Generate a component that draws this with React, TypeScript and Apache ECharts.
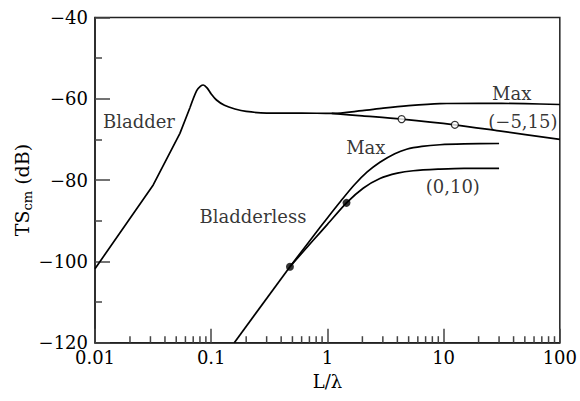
import React, { useEffect, useRef } from 'react';
import * as echarts from 'echarts';

const FONT = '"DejaVu Serif", "Liberation Serif", serif';

const xTickLabels = ['0.01', '0.1', '1', '10', '100'];
const xMinorTicks = [
  0.02, 0.03, 0.04, 0.05, 0.06, 0.07, 0.08, 0.09,
  0.2, 0.3, 0.4, 0.5, 0.6, 0.7, 0.8, 0.9,
  2, 3, 4, 5, 6, 7, 8, 9,
  20, 30, 40, 50, 60, 70, 80, 90,
];

// Bladder curve: rising part
const bladderRise = [
  [0.01, -101.8], [0.0317, -81.2], [0.0538, -68.5], [0.0656, -62.2],
];
// Bladder curve: peak, plateau and upper "Max" branch
const bladderMax = [
  [0.0656, -62.2], [0.075, -58], [0.081, -56.9], [0.0855, -56.6],
  [0.092, -57.3], [0.1, -58.8], [0.111, -60.3], [0.13, -61.6],
  [0.16, -62.5], [0.2, -63.1], [0.3, -63.5], [0.6, -63.5], [1.09, -63.6],
  [2, -62.9], [3.02, -62.3], [5, -61.7], [9.3, -61.2], [20, -61.1],
  [50, -61.2], [100, -61.4],
];
// Lower branch (-5,15)
const bladderM5_15 = [
  [1.09, -63.6], [2, -64.2], [4.35, -65.0], [12.5, -66.4], [30, -67.9], [100, -70.0],
];
const bladderMarkers = [[4.35, -65.0], [12.5, -66.4]];

// Bladderless
const bladderless = [[0.158, -120], [0.476, -101.3]];
const bladderlessMax = [
  [0.476, -101.3], [0.755, -93.8], [1.0, -89.3], [1.3, -85.2], [1.7, -81.2],
  [2.2, -78.0], [2.83, -75.6], [3.8, -73.5], [4.8, -72.4], [6.5, -71.7],
  [9.3, -71.3], [15, -71.1], [30, -71.0],
];
const bladderless0_10 = [
  [0.476, -101.3], [0.755, -94.8], [1.0, -90.9], [1.46, -85.6], [2.03, -82.0],
  [2.83, -79.6], [4.0, -78.3], [5.47, -77.7], [9.29, -77.3], [15, -77.1], [30, -77.1],
];
const bladderlessMarkers = [[0.476, -101.3], [1.46, -85.6]];

const curveLabels = [
  { name: 'Bladder', value: [0.0239, -65.7] },
  { name: 'Max', value: [38.6, -58.6] },
  { name: '(\u22125,15)', value: [48.1, -65.6] },
  { name: 'Max', value: [2.14, -72.1] },
  { name: '(0,10)', value: [12.0, -81.6] },
  { name: 'Bladderless', value: [0.229, -88.9] },
];

const lineStyle = { color: '#000', width: 1.7 };

export default function App() {
  const ref = useRef<HTMLDivElement>(null);
  useEffect(() => {
    document.body.style.margin = '0';
    const chart = echarts.init(ref.current!, null, { renderer: 'svg' });
    const mkLine = (data: number[][], smooth: number | boolean) => ({
      type: 'line',
      data,
      smooth,
      symbol: 'none',
      lineStyle,
      silent: true,
      z: 3,
    });
    chart.setOption({
      animation: false,
      backgroundColor: '#fff',
      grid: {
        left: 95,
        right: 20,
        top: 17.5,
        bottom: 58.3,
        show: true,
        borderColor: '#222',
        borderWidth: 1.5,
        backgroundColor: 'transparent',
      },
      xAxis: {
        type: 'log',
        logBase: 10,
        min: 0.01,
        max: 100,
        splitNumber: 4,
        name: 'L/\u03bb',
        nameLocation: 'middle',
        nameGap: 30,
        nameTextStyle: { fontFamily: FONT, fontSize: 18, color: '#000' },
        axisLine: { show: true, lineStyle: { color: '#222', width: 1.5 } },
        axisTick: { show: true, inside: true, length: 14, lineStyle: { color: '#444', width: 1.5 } },
        axisLabel: {
          fontFamily: FONT,
          fontSize: 18,
          color: '#000',
          margin: 6,
          formatter: (v: number) => xTickLabels[Math.round(Math.log10(v)) + 2],
        },
        splitLine: { show: false },
        minorTick: { show: false },
      },
      yAxis: {
        type: 'value',
        min: -120,
        max: -40,
        interval: 20,
        axisLine: { show: true, lineStyle: { color: '#222', width: 1.5 } },
        axisTick: { show: true, inside: true, length: 15, lineStyle: { color: '#444', width: 1.5 } },
        minorTick: { show: true, splitNumber: 2, length: 7, lineStyle: { color: '#444', width: 1.5 } },
        axisLabel: {
          fontFamily: FONT,
          fontSize: 18,
          color: '#000',
          margin: 7,
          formatter: (v: number) => (v < 0 ? '\u2212' + Math.abs(v) : String(v)),
        },
        splitLine: { show: false },
        minorSplitLine: { show: false },
      },
      graphic: [
        {
          type: 'text',
          x: 22,
          y: 190,
          rotation: Math.PI / 2,
          style: {
            text: '{a|TS}{s|cm}{a| (dB)}',
            align: 'center',
            verticalAlign: 'middle',
            rich: {
              a: { fontFamily: FONT, fontSize: 19, fill: '#000', lineHeight: 24 },
              s: { fontFamily: FONT, fontSize: 13, fill: '#000', verticalAlign: 'bottom', lineHeight: 16 },
            },
          },
        },
      ],
      series: [
        mkLine(bladderRise, false),
        mkLine(bladderMax, 0.3),
        mkLine(bladderM5_15, 0.3),
        mkLine(bladderless, false),
        mkLine(bladderlessMax, 0.3),
        mkLine(bladderless0_10, 0.3),
        {
          type: 'scatter',
          data: bladderMarkers,
          symbol: 'circle',
          symbolSize: 7,
          itemStyle: { color: '#fff', borderColor: '#000', borderWidth: 1.2 },
          silent: true,
          z: 5,
        },
        {
          type: 'scatter',
          data: bladderlessMarkers,
          symbol: 'circle',
          symbolSize: 8,
          itemStyle: { color: '#000' },
          silent: true,
          z: 5,
        },
        {
          type: 'custom',
          data: xMinorTicks.map((v) => [v, -120]),
          silent: true,
          z: 2,
          renderItem: (params: any, api: any) => {
            const p = api.coord([api.value(0), api.value(1)]);
            return {
              type: 'line',
              shape: { x1: p[0], y1: p[1], x2: p[0], y2: p[1] - 6.5 },
              style: { stroke: '#444', lineWidth: 1.5 },
            };
          },
        },
        {
          type: 'scatter',
          data: curveLabels,
          symbolSize: 0,
          silent: true,
          z: 6,
          label: {
            show: true,
            position: 'inside',
            formatter: '{b}',
            fontFamily: FONT,
            fontSize: 18,
            color: '#000',
          },
        },
      ],
    });
    return () => chart.dispose();
  }, []);
  return <div ref={ref} style={{ width: 580, height: 401 }} />;
}
